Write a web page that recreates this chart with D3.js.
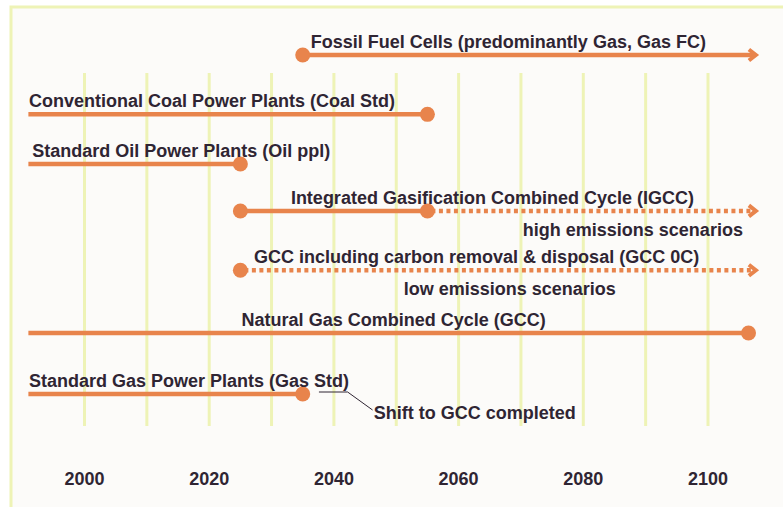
<!DOCTYPE html>
<html>
<head>
<meta charset="utf-8">
<script src="https://cdn.jsdelivr.net/npm/d3@7"></script>
<style>
body { margin:0; background:#fff; }
.label { font-family:"Liberation Sans", Arial, sans-serif; font-weight:bold; font-size:18px; fill:#2f2533; }
.year { font-family:"Liberation Sans", Arial, sans-serif; font-weight:bold; font-size:18px; fill:#2f2533; }
</style>
</head>
<body>
<svg width="783" height="507"></svg>
<script>

// technologies, top to bottom
var names = [
	"Fossil Fuel Cells (predominantly Gas, Gas FC)",
	"Conventional Coal Power Plants (Coal Std)",
	"Standard Oil Power Plants (Oil ppl)",
	"Integrated Gasification Combined Cycle (IGCC)",
	"GCC including carbon removal & disposal (GCC 0C)",
	"Natural Gas Combined Cycle (GCC)",
	"Standard Gas Power Plants (Gas Std)"
];
var lanes = [0, 1.05, 1.93, 2.76, 3.81, 4.92, 6.0];
var startYear = [2035, 1991, 1991, 2025, 2025, 1991, 1991];
var solidEnd  = [2108, 2055, 2025, 2055, 2025, 2106.5, 2035];
var dottedEnd = [null, null, null, 2108, 2108, null, null];
var startDot  = [true, false, false, true, true, false, false];
var endDot    = [false, true, true, true, false, true, true];
var arrowEnd  = [true, false, false, true, true, false, false];
var labelYear = [2036.3, 1991.1, 1991.6, 2033.1, 2027.2, 2025.2, 1991.1];

var notes = ["high emissions scenarios", "low emissions scenarios"];
var noteRow = [3, 4];
var noteYear = [2070.3, 2051.2];

var gridYears = d3.range(2000, 2101, 10);
var tickYears = [2000, 2020, 2040, 2060, 2080, 2100];

var orange = "#e8844c";

var svg = d3.select("svg");

var x = d3.scaleLinear().domain([2000, 2100]).range([84.5, 708]);
var y = d3.scaleLinear().domain([0, 6]).range([55, 394]);

// frame
svg.append("rect")
	.attr("x", 11).attr("y", 7)
	.attr("width", 800).attr("height", 520)
	.attr("fill", "#fcfbf9")
	.attr("stroke", "#eef3b6")
	.attr("stroke-width", 3);

// vertical grid
svg.append("g").selectAll("line")
	.data(gridYears)
	.enter().append("line")
	.attr("x1", function(d) { return x(d); })
	.attr("x2", function(d) { return x(d); })
	.attr("y1", 73).attr("y2", 426)
	.attr("stroke", "#eef3b6")
	.attr("stroke-width", 3);

// year labels
svg.append("g").selectAll("text")
	.data(tickYears)
	.enter().append("text")
	.attr("class", "year")
	.attr("x", function(d) { return x(d); })
	.attr("y", 485)
	.attr("text-anchor", "middle")
	.text(function(d) { return d; });

var rows = names.map(function(n, i) { return i; });

// solid lines
svg.append("g").selectAll("line")
	.data(rows)
	.enter().append("line")
	.attr("x1", function(i) { return x(startYear[i]); })
	.attr("x2", function(i) { return x(solidEnd[i]) - (arrowEnd[i] && dottedEnd[i] == null ? 3 : 0); })
	.attr("y1", function(i) { return y(lanes[i]); })
	.attr("y2", function(i) { return y(lanes[i]); })
	.attr("stroke", orange)
	.attr("stroke-width", 4.5);

// dotted continuation
svg.append("g").selectAll("line")
	.data(rows.filter(function(i) { return dottedEnd[i] != null; }))
	.enter().append("line")
	.attr("x1", function(i) { return x(solidEnd[i]) + 4; })
	.attr("x2", function(i) { return x(dottedEnd[i]) - 4; })
	.attr("y1", function(i) { return y(lanes[i]); })
	.attr("y2", function(i) { return y(lanes[i]); })
	.attr("stroke", orange)
	.attr("stroke-width", 4.5)
	.attr("stroke-dasharray", "4,3.5");

// arrow heads
svg.append("g").selectAll("path")
	.data(rows.filter(function(i) { return arrowEnd[i]; }))
	.enter().append("path")
	.attr("d", function(i) {
		var tx = x(dottedEnd[i] != null ? dottedEnd[i] : solidEnd[i]) - 2, ty = y(lanes[i]);
		return "M" + (tx - 7) + "," + (ty - 5.5) + "L" + tx + "," + ty + "L" + (tx - 7) + "," + (ty + 5.5);
	})
	.attr("fill", "none")
	.attr("stroke", orange)
	.attr("stroke-width", 4)
	.attr("stroke-linejoin", "miter");

// dots
var dots = [];
rows.forEach(function(i) {
	if (startDot[i]) dots.push({year: startYear[i], row: i});
	if (endDot[i]) dots.push({year: solidEnd[i], row: i});
});
svg.append("g").selectAll("circle")
	.data(dots)
	.enter().append("circle")
	.attr("cx", function(d) { return x(d.year); })
	.attr("cy", function(d) { return y(lanes[d.row]); })
	.attr("r", 7.5)
	.attr("fill", orange);

// labels
svg.append("g").selectAll("text")
	.data(rows)
	.enter().append("text")
	.attr("class", "label")
	.attr("x", function(i) { return x(labelYear[i]); })
	.attr("y", function(i) { return y(lanes[i]) - 7; })
	.text(function(i) { return names[i]; });

svg.append("g").selectAll("text")
	.data(notes)
	.enter().append("text")
	.attr("class", "label")
	.attr("x", function(d, k) { return x(noteYear[k]); })
	.attr("y", function(d, k) { return y(lanes[noteRow[k]]) + 25; })
	.text(function(d) { return d; });

// annotation
var gasY = y(lanes[6]);
svg.append("path")
	.attr("d", "M" + x(2037.6) + "," + (gasY - 2) + "H" + x(2042.2) + "L" + x(2046.2) + "," + (gasY + 16))
	.attr("fill", "none")
	.attr("stroke", "#2f2533")
	.attr("stroke-width", 1);
svg.append("text")
	.attr("class", "label")
	.attr("x", x(2046.4))
	.attr("y", gasY + 25)
	.text("Shift to GCC completed");

</script>
</body>
</html>
